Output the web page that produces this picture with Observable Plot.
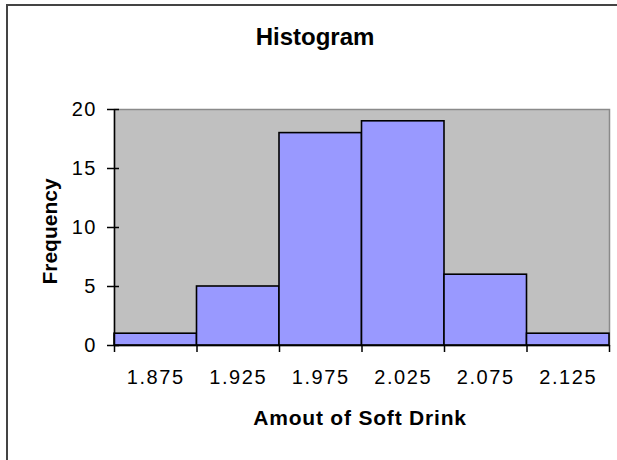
<!DOCTYPE html>
<html>
<head>
<meta charset="utf-8">
<script src="https://cdn.jsdelivr.net/npm/d3@7"></script>
<script src="https://cdn.jsdelivr.net/npm/@observablehq/plot@0.6"></script>
<style>
  html, body { margin: 0; padding: 0; background: #fff; overflow: hidden; }
  #wrap { position: relative; width: 617px; height: 460px; }
  #border { position: absolute; left: 6px; top: 4px; width: 800px; height: 800px;
            border-left: 2px solid #444; border-top: 2px solid #444; pointer-events: none; }
  svg { font-family: "Liberation Sans", Arial, sans-serif; }
  g[aria-label="x-axis tick label"] text { letter-spacing: 1.6px; }
  g[aria-label="y-axis tick label"] text { letter-spacing: 1.2px; }
  g.xtitle text { letter-spacing: 0.8px; }
</style>
</head>
<body>
<div id="wrap"><div id="border"></div></div>
<script>
// Data
const binStart = [1.85, 1.90, 1.95, 2.00, 2.05, 2.10];
const binEnd   = [1.90, 1.95, 2.00, 2.05, 2.10, 2.15];
const binLabels = ["1.875", "1.925", "1.975", "2.025", "2.075", "2.125"];
const binCenters = [1.875, 1.925, 1.975, 2.025, 2.075, 2.125];
const frequency = [1, 5, 18, 19, 6, 1];
const yTicks = [0, 5, 10, 15, 20];
const edgeTicks = [1.85, 1.90, 1.95, 2.00, 2.05, 2.10, 2.15];
const titleText = "Histogram";
const xTitle = "Amout of Soft Drink";
const yTitle = "Frequency";

const data = binStart.map((s, i) => ({x1: s, x2: binEnd[i], count: frequency[i]}));

const chart = Plot.plot({
  width: 617,
  height: 460,
  marginLeft: 114,
  marginRight: 8,
  marginTop: 109,
  marginBottom: 115,
  style: {fontFamily: "'Liberation Sans', Arial, sans-serif", background: "transparent", overflow: "visible"},
  x: {domain: [1.85, 2.15], axis: null, label: null},
  y: {domain: [0, 20], axis: null, label: null},
  marks: [
    Plot.frame({fill: "#c0c0c0", stroke: "#8a8a8a", strokeWidth: 1.5}),
    Plot.rectY(data, {x1: "x1", x2: "x2", y: "count", fill: "#9999ff", stroke: "#000", strokeWidth: 1.6}),
    Plot.ruleX([1.85], {stroke: "#000", strokeWidth: 1.5}),
    Plot.ruleY([0], {stroke: "#000", strokeWidth: 1.5}),
    Plot.axisY({ticks: yTicks, label: null, tickSize: 12, dx: 5, tickPadding: 11, fontSize: 20, stroke: "#000", strokeWidth: 1.5, color: "#000", tickFormat: d => String(d)}),
    Plot.axisX({ticks: edgeTicks, label: null, tickSize: 7, tickFormat: () => "", stroke: "#000", strokeWidth: 1.5}),
    Plot.axisX({ticks: binCenters, label: null, tickSize: 0, tickPadding: 24, fontSize: 20, color: "#000", tickFormat: (d, i) => binLabels[i]}),
    Plot.text([titleText], {frameAnchor: "top", dx: -47, dy: -72, lineAnchor: "middle", fontSize: 24, fontWeight: "bold", fill: "#000"}),
    Plot.text([xTitle], {frameAnchor: "bottom", dx: -2, dy: 73, lineAnchor: "middle", fontSize: 21, fontWeight: "bold", fill: "#000", className: "xtitle"}),
    Plot.text([yTitle], {frameAnchor: "left", textAnchor: "middle", dx: -64, dy: 4, rotate: -90, lineAnchor: "middle", fontSize: 21, fontWeight: "bold", fill: "#000"})
  ]
});
document.getElementById("wrap").appendChild(chart);
chart.style.position = "absolute";
chart.style.left = "0px";
chart.style.top = "0px";
</script>
</body>
</html>
